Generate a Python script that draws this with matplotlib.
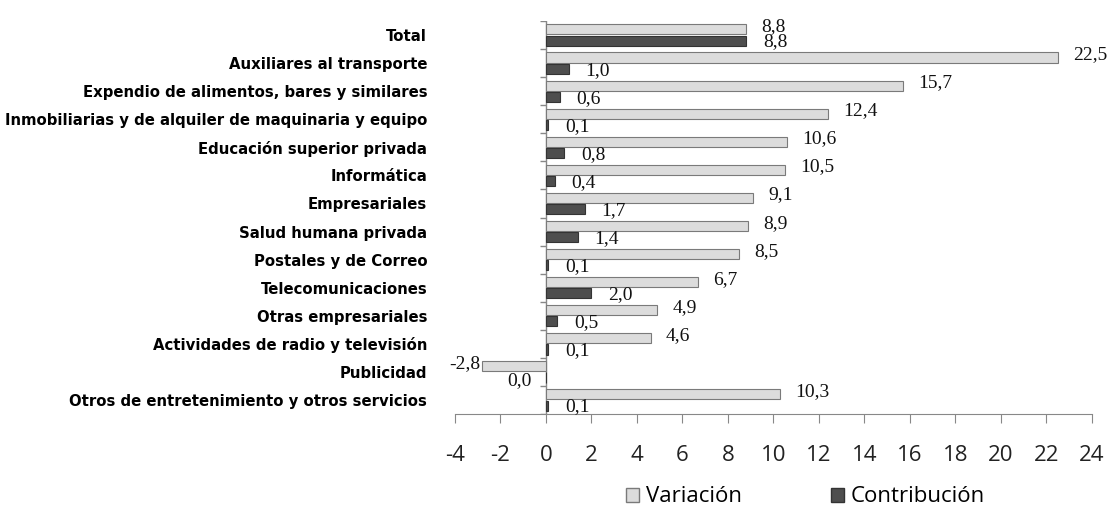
import numpy as np
import matplotlib.pyplot as plt
from matplotlib.patches import Patch

plt.rcParams['axes.unicode_minus'] = False

categorias = ['Total', 'Auxiliares al transporte', 'Expendio de alimentos, bares y similares',
              'Inmobiliarias y de alquiler de maquinaria y equipo', 'Educación superior privada',
              'Informática', 'Empresariales', 'Salud humana privada', 'Postales y de Correo',
              'Telecomunicaciones', 'Otras empresariales', 'Actividades de radio y televisión',
              'Publicidad', 'Otros de entretenimiento y otros servicios']
variacion = [8.8, 22.5, 15.7, 12.4, 10.6, 10.5, 9.1, 8.9, 8.5, 6.7, 4.9, 4.6, -2.8, 10.3]
contribucion = [8.8, 1.0, 0.6, 0.1, 0.8, 0.4, 1.7, 1.4, 0.1, 2.0, 0.5, 0.1, 0.0, 0.1]

fig = plt.figure(figsize=(11.15, 5.09), dpi=100)
ax = fig.add_axes([0.408, 0.1866, 0.5713, 0.7721])

n = len(categorias)
y = np.arange(n)[::-1]
h = 0.36
off = 0.2
c_var = '#dcdcdc'
c_con = '#4e4e4e'

ax.barh(y + off, variacion, height=h, color=c_var, edgecolor='#7a7a7a', linewidth=0.8, label='Variación')
ax.barh(y - off, contribucion, height=h, color=c_con, edgecolor='#333333', linewidth=0.8, label='Contribución')

def fmt(v):
    return ('%.1f' % v).replace('.', ',')

lbl = dict(fontsize=14, family='Liberation Serif', color='#111111')
for yi, v in zip(y, variacion):
    if v >= 0:
        ax.annotate(fmt(v), (v, yi + off), xytext=(11, 2), textcoords='offset points',
                    ha='left', va='center', **lbl)
    else:
        ax.annotate(fmt(v), (v, yi + off), xytext=(-1, 2), textcoords='offset points',
                    ha='right', va='center', **lbl)
for yi, v, vv in zip(y, contribucion, variacion):
    if vv >= 0:
        ax.annotate(fmt(v), (v, yi - off), xytext=(12, -1), textcoords='offset points',
                    ha='left', va='center', **lbl)
    else:
        ax.annotate(fmt(v), (v, yi - off), xytext=(-10, -2), textcoords='offset points',
                    ha='right', va='center', **lbl)

ax.set_xlim(-4, 24)
ax.set_ylim(-0.5, n - 0.5)
ax.set_xticks(np.arange(-4, 25, 2))
ax.tick_params(axis='x', labelsize=16, direction='out', length=6.5, color='#888888', pad=16)
for t in ax.get_xticklabels():
    t.set_family('Open Sans')
    t.set_color('#222222')

ax.set_yticks(y)
ax.set_yticklabels(categorias, fontsize=10.7, fontweight='bold', family='DejaVu Sans')
ax.tick_params(axis='y', length=0, pad=20)

for s in ['top', 'right', 'left']:
    ax.spines[s].set_visible(False)
ax.spines['bottom'].set_color('#888888')
ax.axvline(0, color='#888888', linewidth=1, zorder=0)
ax.hlines(np.arange(-0.5, n, 1), -0.25, 0, color='#888888', linewidth=1)

ax.legend(handles=[Patch(facecolor=c_var, edgecolor='#7a7a7a', label='Variación'),
                   Patch(facecolor=c_con, edgecolor='#333333', label='Contribución')],
          loc='center', bbox_to_anchor=(0.55, -0.211), ncol=2, frameon=False,
          prop={'family': 'Open Sans', 'size': 16}, handlelength=0.6, handleheight=0.6,
          handletextpad=0.3, columnspacing=4.0)

plt.savefig('out.png', dpi=100)
